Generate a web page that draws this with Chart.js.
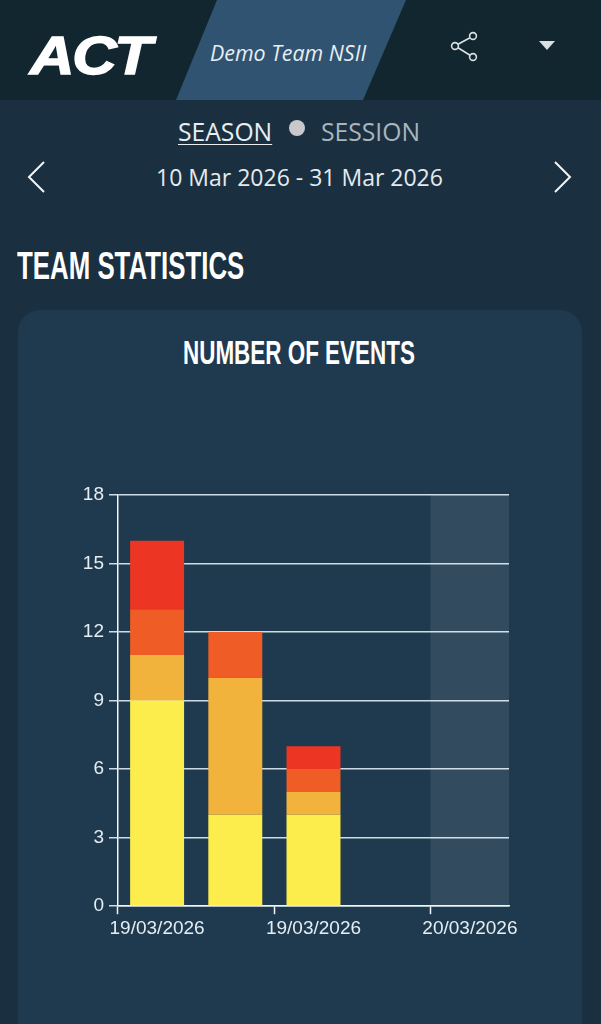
<!DOCTYPE html>
<html>
<head>
<meta charset="utf-8">
<title>Team statistics</title>
<script src="https://cdn.jsdelivr.net/npm/chart.js@4"></script>
<style>
  html, body { margin: 0; padding: 0; }
  body { width: 601px; height: 1024px; overflow: hidden; position: relative; background: #1a3040; font-family: "Open Sans", sans-serif; color: #fff; }
  .abs { position: absolute; white-space: nowrap; }
  .header { left: 0; top: 0; width: 601px; height: 100px; background: #11262f; }
  .team { left: 176px; top: 0; width: 230px; height: 100px; background: #2f5370; clip-path: polygon(41px 0, 230px 0, 187px 100px, 0 100px); }
  .team-name { left: 210px; top: 38px; font-size: 21.4px; font-style: italic; color: #e8eef2; }
  .logo { left: 30px; top: 24px; font: italic 900 54px/62px "Liberation Sans", sans-serif; letter-spacing: -2px; -webkit-text-stroke: 1.5px #fff; transform-origin: left top; transform: scaleX(1.14); }
  .caret { left: 539px; top: 41px; width: 0; height: 0; border-left: 8px solid transparent; border-right: 8px solid transparent; border-top: 9px solid #d9dfe3; }
  .season { left: 178px; top: 116px; font-size: 24.7px; line-height: 32px; color: #e8eef2; text-decoration: underline; text-underline-offset: 3px; text-decoration-thickness: 1px; }
  .session { left: 321px; top: 116px; font-size: 24.7px; line-height: 32px; color: #a9b4bc; }
  .dot { left: 289px; top: 120px; width: 16px; height: 16px; border-radius: 50%; background: #c9c9cc; }
  .range { left: -1px; width: 601px; top: 160px; text-align: center; font-size: 23px; line-height: 34px; color: #e4eaee; }
  .cond { font-family: "Liberation Sans", sans-serif; font-weight: 700; transform-origin: left top; }
  .h1 { left: 17px; top: 243px; font-size: 38px; line-height: 46px; transform: scaleX(0.68); }
  .card { left: 18px; top: 310px; width: 564px; height: 760px; border-radius: 22px; background: #1f3a4f; }
  .h2 { left: 183px; top: 330px; font-size: 34px; line-height: 44px; transform: scaleX(0.66); }
  #wrap { position: absolute; left: 18px; top: 470px; width: 564px; height: 473px; }
</style>
</head>
<body>
<div class="abs header"></div>
<div class="abs team"></div>
<div class="abs team-name">Demo Team NSII</div>
<div class="abs logo">ACT</div>
<svg class="abs" style="left:449px;top:30px" width="32" height="32" viewBox="0 0 32 32" fill="none" stroke="#d9dfe3" stroke-width="1.6">
  <circle cx="24" cy="6" r="3.4"/><circle cx="6" cy="16" r="3.4"/><circle cx="24" cy="27" r="3.4"/>
  <path d="M9 14.3 21 7.7M9 17.7 21 25.2"/>
</svg>
<div class="abs caret"></div>
<div class="abs season">SEASON</div>
<div class="abs dot"></div>
<div class="abs session">SESSION</div>
<svg class="abs" style="left:23px;top:158px" width="28" height="38" viewBox="0 0 28 38" fill="none" stroke="#f2f5f7" stroke-width="2"><path d="M21 4 6 19 21 34"/></svg>
<svg class="abs" style="left:549px;top:158px" width="28" height="38" viewBox="0 0 28 38" fill="none" stroke="#f2f5f7" stroke-width="2"><path d="M6 4 21 19 6 34"/></svg>
<div class="abs range">10 Mar 2026 - 31 Mar 2026</div>
<div class="abs cond h1">TEAM STATISTICS</div>
<div class="abs card"></div>
<div class="abs cond h2">NUMBER OF EVENTS</div>
<div id="wrap"><canvas id="eventsChart"></canvas></div>

<script>
const dateLabels = ['19/03/2026', '19/03/2026', '19/03/2026', '20/03/2026', '20/03/2026'];
const yTicks = [0, 3, 6, 9, 12, 15, 18];
const yellowEvents = [9, 4, 4, null, null];
const amberEvents = [2, 6, 1, null, null];
const orangeEvents = [2, 2, 1, null, null];
const redEvents = [3, null, 1, null, null];
const selectedBand = [null, null, null, null, 18];

const axisColor = '#f2f5f7';
const gridColor = '#cfdbe4';
const labelColor = '#e6edf2';

function barSet(data, color) {
  return { data, backgroundColor: color, barPercentage: 0.69, categoryPercentage: 1 };
}

new Chart(document.getElementById('eventsChart'), {
  type: 'bar',
  data: {
    labels: dateLabels,
    datasets: [
      barSet(yellowEvents, '#fcec4c'),
      barSet(amberEvents, '#f2b33d'),
      barSet(orangeEvents, '#ef5c26'),
      barSet(redEvents, '#ec3522'),
      { data: selectedBand, backgroundColor: 'rgba(255,255,255,0.09)', barPercentage: 1, categoryPercentage: 1 },
    ],
  },
  options: {
    responsive: true,
    maintainAspectRatio: false,
    animation: false,
    devicePixelRatio: 1,
    layout: { padding: { top: 25, left: 0, right: 73, bottom: 0 } },
    plugins: { legend: { display: false }, tooltip: { enabled: false } },
    scales: {
      x: {
        stacked: true,
        offset: true,
        border: { color: axisColor, width: 1.5 },
        grid: {
          offset: true,
          drawOnChartArea: false,
          tickLength: 8,
          tickWidth: 1.5,
          // only every second boundary has a mark, plus the closing one
          tickColor: (ctx) => (ctx.index % 2 === 0 || ctx.index === dateLabels.length ? axisColor : 'transparent'),
        },
        ticks: {
          autoSkip: false,
          maxRotation: 0,
          color: labelColor,
          padding: 3,
          font: { family: 'Liberation Sans', size: 19 },
          callback: (v, i) => (i % 2 === 0 ? dateLabels[i] : ''),
        },
      },
      y: {
        stacked: true,
        min: 0,
        max: 18,
        afterBuildTicks: (scale) => { scale.ticks = yTicks.map((value) => ({ value })); },
        afterFit: (scale) => { scale.width = 100; },
        border: { color: axisColor, width: 1.5 },
        grid: { color: gridColor, lineWidth: 1.5, tickLength: 9, tickColor: gridColor },
        ticks: {
          color: labelColor,
          padding: 5,
          font: { family: 'Liberation Sans', size: 19 },
        },
      },
    },
  },
});
</script>
</body>
</html>
